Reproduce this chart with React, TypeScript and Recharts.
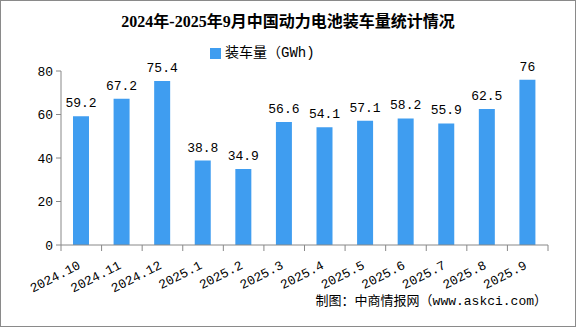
import { BarChart, Bar, XAxis, YAxis, Legend, LabelList } from 'recharts'

const months = [
  '2024.10', '2024.11', '2024.12', '2025.1', '2025.2', '2025.3',
  '2025.4', '2025.5', '2025.6', '2025.7', '2025.8', '2025.9',
]
const volumes = [59.2, 67.2, 75.4, 38.8, 34.9, 56.6, 54.1, 57.1, 58.2, 55.9, 62.5, 76]
const yTicks = [0, 20, 40, 60, 80]

const TITLE = '2024年-2025年9月中国动力电池装车量统计情况'
const SERIES = '装车量（GWh)'
const SOURCE = '制图：中商情报网（www.askci.com）'

const W = 576
const H = 327
const MARGIN = { top: 71, right: 28, bottom: 22, left: 0 }
const Y_AXIS_W = 61
const PLOT_W = W - MARGIN.left - MARGIN.right - Y_AXIS_W
const BAND = PLOT_W / months.length

const FONT = '"Liberation Mono", "Noto Sans CJK SC", monospace'
const AXIS = '#888888'
const BLUE = '#3f9df0'

const data = months.map((m, i) => ({ month: m, value: volumes[i] }))

// ticks sit on the category boundaries, labels slanted under each bar
function MonthTick(props: any) {
  const { x, y, payload, index } = props
  const ax = x
  const ay = y + 23
  return (
    <g>
      <line x1={x - BAND / 2} x2={x - BAND / 2} y1={y} y2={y + 6} stroke={AXIS} />
      {index === months.length - 1 && (
        <line x1={x + BAND / 2} x2={x + BAND / 2} y1={y} y2={y + 6} stroke={AXIS} />
      )}
      <text
        x={ax}
        y={ay}
        transform={`rotate(-27, ${ax}, ${ay})`}
        textAnchor="end"
        fontSize={13}
        fontFamily={FONT}
        fill="#000"
      >
        {payload.value}
      </text>
    </g>
  )
}

export default function App() {
  return (
    <div style={{ position: 'absolute', left: 0, top: 0, width: W, height: H, background: '#fff' }}>
      <div
        style={{
          position: 'absolute', left: 0, top: 12, width: W, textAlign: 'center',
          fontSize: 16, lineHeight: '20px', fontWeight: 'bold',
          fontFamily: '"Liberation Serif", "Noto Sans CJK SC", serif',
        }}
      >
        {TITLE}
      </div>
      <BarChart width={W} height={H} data={data} margin={MARGIN}>
        <Legend
          layout="horizontal"
          verticalAlign="middle"
          align="center"
          iconType="square"
          iconSize={11}
          wrapperStyle={{ top: 41, left: 210, width: 'auto', height: 'auto', fontSize: 14, fontFamily: FONT }}
          formatter={(v: any) => <span style={{ color: '#000' }}>{v}</span>}
        />
        <XAxis
          dataKey="month"
          interval={0}
          height={60}
          tickSize={0}
          tickMargin={0}
          tickLine={false}
          axisLine={{ stroke: AXIS }}
          tick={<MonthTick />}
        />
        <YAxis
          width={Y_AXIS_W}
          domain={[0, 80]}
          ticks={yTicks}
          tickSize={5}
          tickMargin={3}
          axisLine={{ stroke: AXIS }}
          tickLine={{ stroke: AXIS }}
          tick={{ fontSize: 13, fill: '#000', fontFamily: FONT }}
        />
        <Bar dataKey="value" name={SERIES} fill={BLUE} barSize={16} isAnimationActive={false}>
          <LabelList
            dataKey="value"
            position="top"
            offset={9}
            style={{ fontSize: 13, fill: '#000', fontFamily: FONT }}
          />
        </Bar>
      </BarChart>
      <div
        style={{
          position: 'absolute', right: 29, top: 293, fontSize: 13, lineHeight: '18px',
          fontFamily: FONT, whiteSpace: 'nowrap',
        }}
      >
        {SOURCE}
      </div>
      <div
        style={{
          position: 'absolute', left: 0, top: 0, width: W, height: H,
          boxSizing: 'border-box', border: '1px solid #8a8a8a', pointerEvents: 'none',
        }}
      />
    </div>
  )
}
